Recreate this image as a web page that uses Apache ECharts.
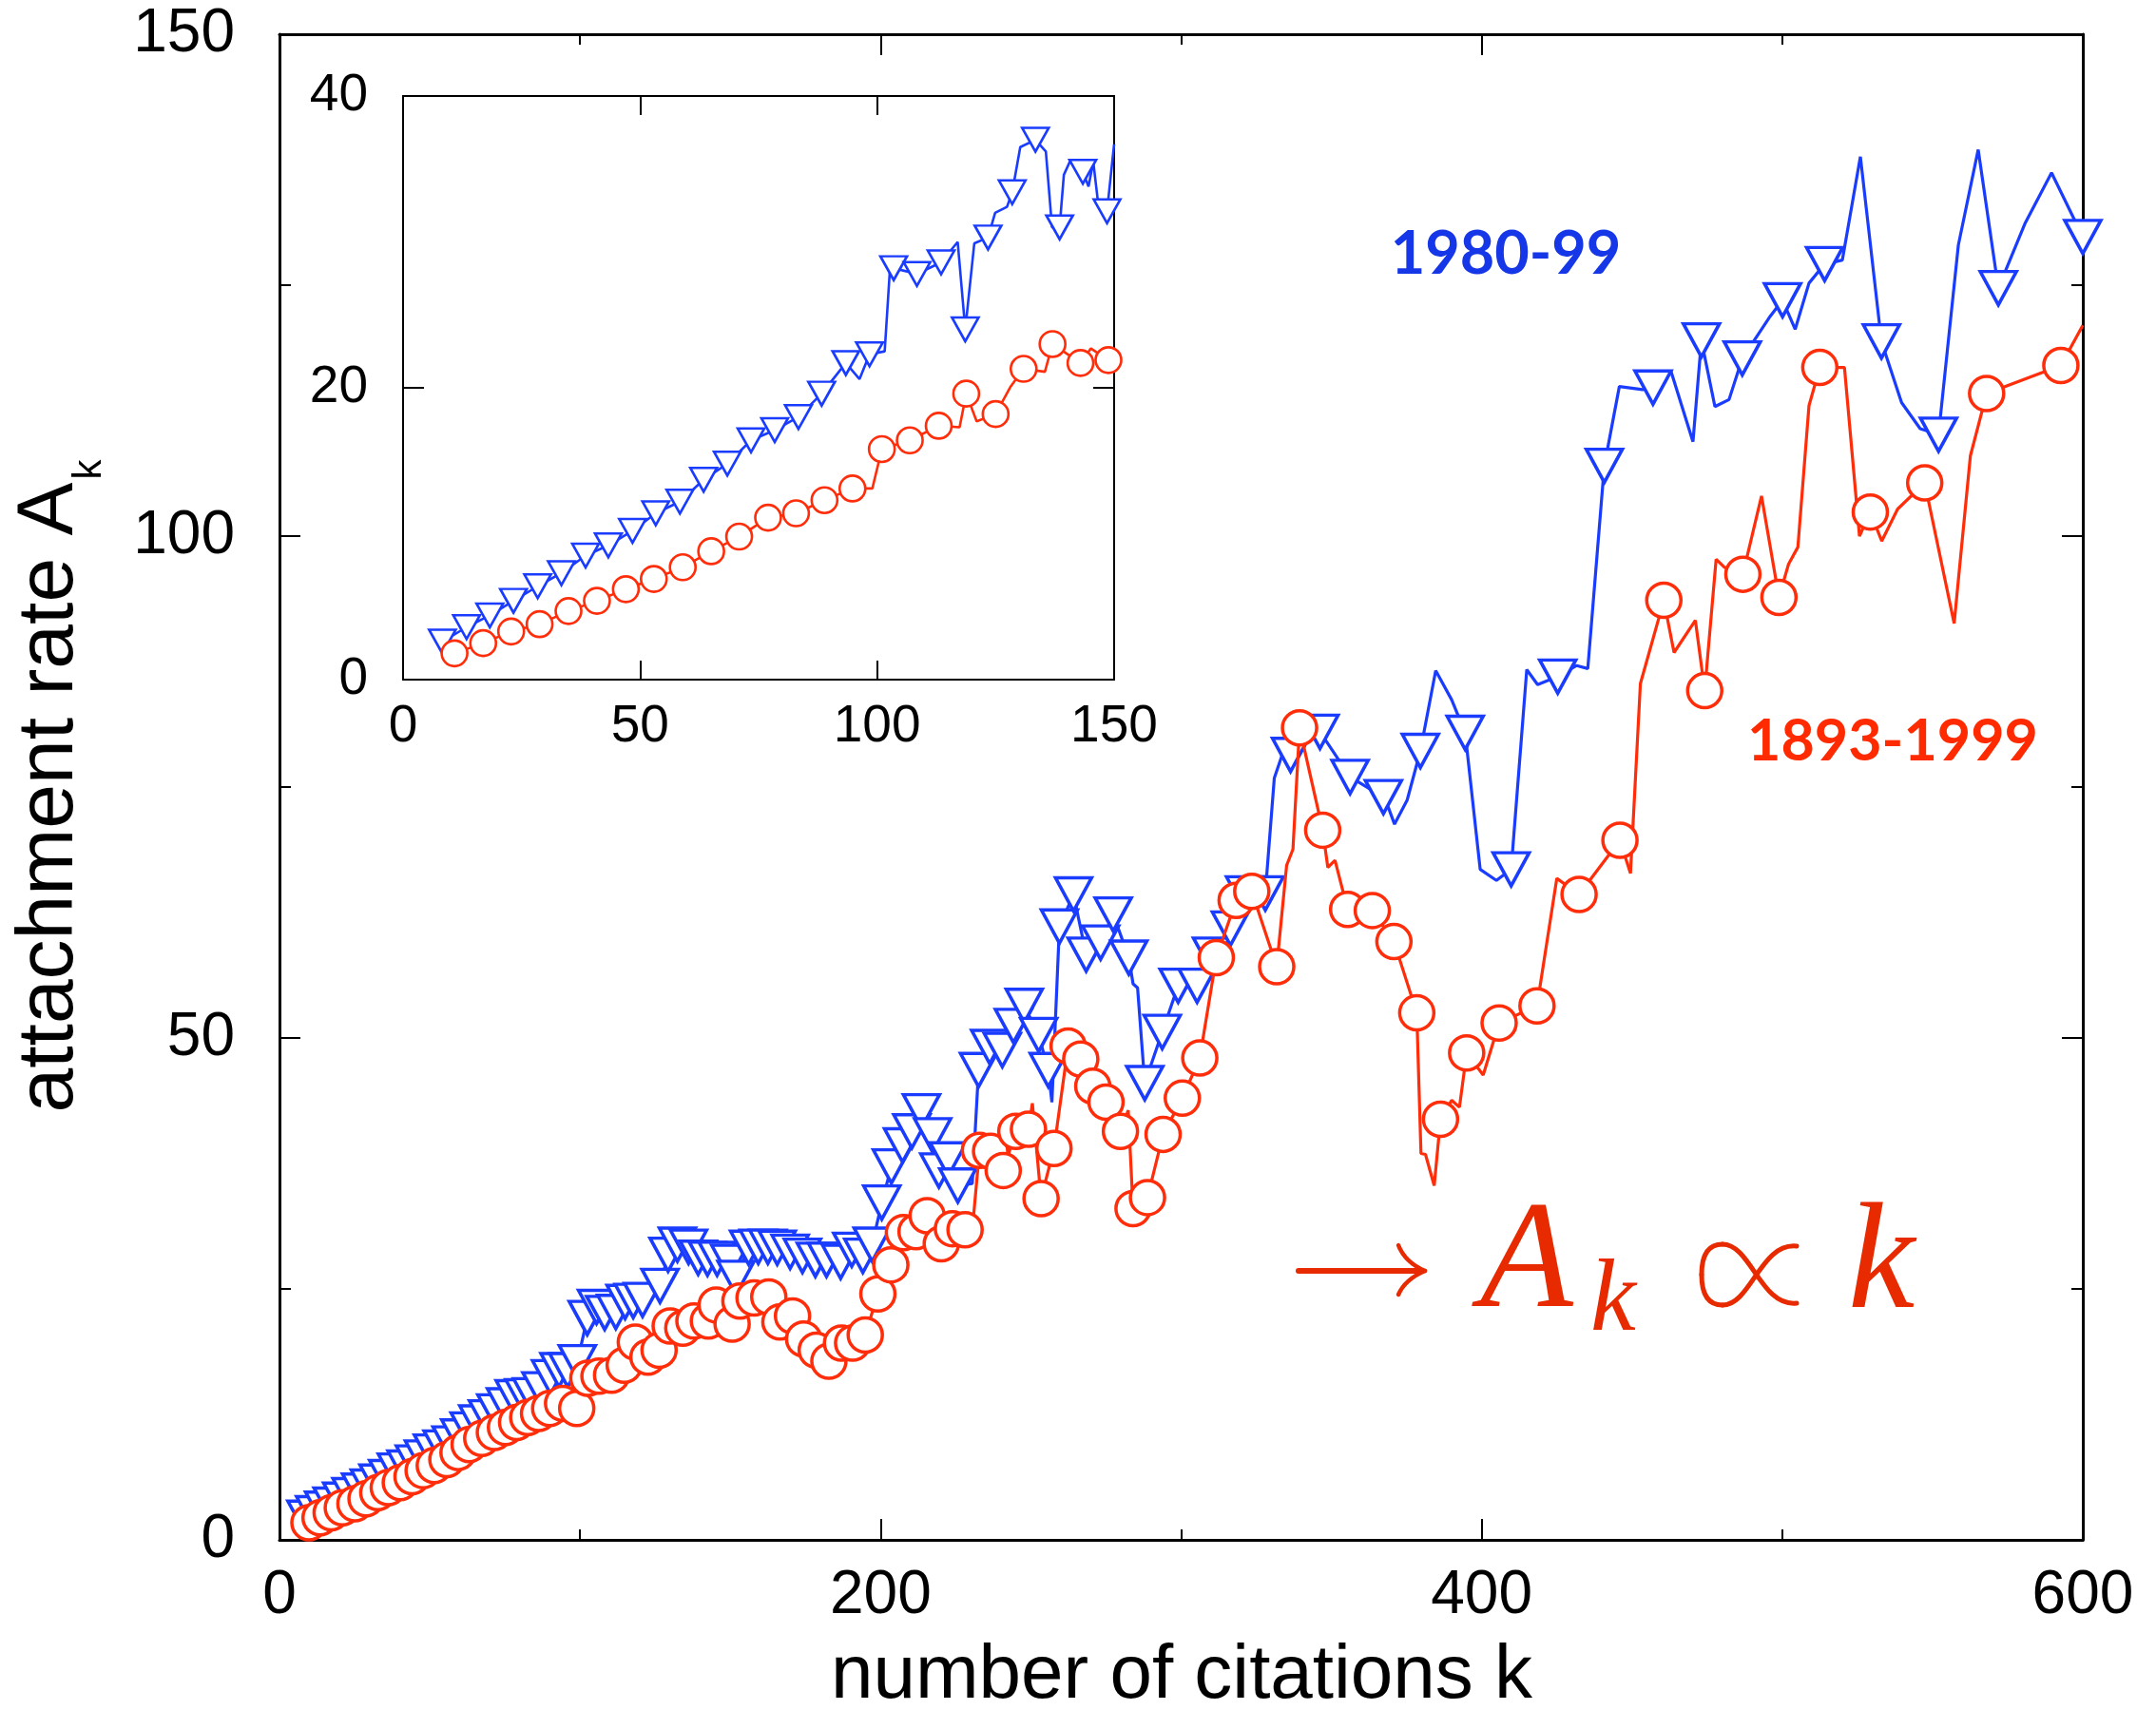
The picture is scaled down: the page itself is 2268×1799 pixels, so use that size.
<!DOCTYPE html>
<html><head><meta charset="utf-8">
<script src="https://cdn.jsdelivr.net/npm/echarts@6/dist/echarts.min.js"></script>
<style>html,body{margin:0;padding:0;background:#fff}#c{width:2268px;height:1799px}</style>
</head><body><div id="c"></div>
<script>
// ---------- main plot : 1980-99 (blue triangles) ----------
const blueMarkK = [8.8,11.7,14.7,17.5,20.7,23.8,27.0,29.9,32.8,36.0,38.9,42.1,44.9,47.9,50.9,54.1,57.1,60.0,63.1,66.0,69.2,72.0,75.2,78.1,81.3,83.9,87.0,90.2,93.0,95.9,99.1,
  102.4,105.5,108.2,111.9,115.0,117.7,120.8,126.6,129.3,132.4,136.1,139.3,142.4,145.6,149.8,151.9,156.1,159.3,162.5,165.6,169.9,174.0,178.3,182.0,186.7,190.4,194.1,197.2,
  200.4,203.6,207.3,210.4,213.6,217.3,219.4,222.5,225.7,232.6,236.3,240.5,244.2,247.8,252.6,255.8,259.5,264.2,268.4,273.2,277.4,282.6,287.9,293.7,299.0,305.3,310.1,316.4,321.1,
  328.0,336.4,346.2,356.2,367.3,379.6,394.5,409.8,425.3,440.8,457.0,473.1,486.7,500.1,514.1,533.0,552.0,571.9,600.0];
const blueMarkA = [2.2,2.65,3.1,3.5,4.0,4.45,4.9,5.3,5.8,6.25,6.9,7.2,7.7,8.2,8.8,9.2,9.6,10.3,11.0,11.7,12.2,12.8,13.4,14.2,14.3,14.4,15.0,16.2,16.9,16.9,17.7,
  22.1,23.2,22.6,22.7,23.7,23.8,23.9,25.3,28.4,29.4,29.2,28.1,28.0,28.0,27.7,26.1,29.1,29.2,29.2,29.1,28.7,28.3,27.9,27.9,27.7,28.9,28.3,29.4,
  33.6,37.2,39.3,40.7,42.7,40.3,36.8,37.9,35.3,46.8,49.1,48.8,51.2,53.2,50.3,46.8,61.1,64.3,58.3,59.5,62.3,58.0,45.5,50.6,55.2,55.2,58.3,60.9,64.4,
  64.4,78.2,80.5,76.0,74.0,78.6,80.4,66.8,86.0,107.0,114.8,119.5,117.7,123.5,127.1,119.4,110.1,124.7,129.8];
// line vertices without a marker
const blueLineK = [230.5,257.0,284.0,285.5,331.0,333.5,368.9,371.0,375.2,384.7,390.0,399.5,404.9,415.0,418.6,431.6,435.3,445.8,453.5,463.0,470.3,477.6,482.3,496.0,504.3,508.9,520.0,526.0,539.7,545.9,558.6,565.2,580.7,589.6];
const blueLineA = [35.5,43.6,55.4,55.0,75.9,78.1,73.0,71.3,73.7,86.6,83.7,66.8,65.7,86.7,85.2,87.1,86.8,114.9,114.6,116.4,109.4,112.9,113.6,121.9,120.6,125.2,127.5,137.8,113.3,110.7,129.0,138.5,131.1,136.2];

// ---------- main plot : 1893-1999 (red circles) ----------
const redMarkK = [9.8,13.5,17.2,20.9,25.1,28.8,32.7,36.2,40.2,44.1,47.8,51.5,55.7,59.4,63.1,67.3,71.5,75.2,78.9,82.6,86.2,89.9,94.2,98.9,
  102.6,106.3,110.5,114.7,118.4,122.6,126.3,130.0,134.2,137.9,142.7,145.3,150.6,153.2,157.9,162.8,166.5,170.7,174.4,178.6,182.8,187.0,190.7,194.9,
  199.1,203.4,207.6,211.8,215.5,220.2,223.9,228.1,232.9,236.6,240.8,245.0,249.2,253.4,257.7,262.4,266.6,270.6,275.0,279.8,284.0,288.8,294.0,300.4,306.2,311.7,318.3,323.5,
  331.8,339.4,347.1,355.4,363.6,370.8,378.4,386.3,395.0,405.8,418.4,432.4,446.0,460.6,474.2,486.9,498.9,512.5,529.3,547.4,568.0,592.7];
const redMarkA = [1.7,2.2,2.7,3.2,3.6,4.1,4.7,5.2,5.7,6.3,6.9,7.4,8.0,8.7,9.5,10.1,10.7,11.2,11.7,12.2,12.6,13.1,13.6,13.1,
  16.1,16.3,16.4,17.4,19.7,18.2,18.9,21.3,21.1,21.8,21.8,23.4,21.5,23.8,24.1,24.2,21.7,22.3,20.0,18.9,17.8,19.6,19.6,20.4,
  24.5,27.4,30.6,30.7,32.3,29.5,31.0,30.9,38.8,38.7,36.8,40.7,40.9,34.0,39.0,49.2,47.9,45.2,43.6,40.7,33.0,34.1,40.4,44.0,48.0,58.0,63.7,64.6,
  57.1,80.9,70.7,62.8,62.7,59.6,52.5,41.9,48.5,51.5,53.2,64.3,69.7,93.6,84.6,96.2,93.9,116.8,102.4,105.3,114.2,117.0];
const redLineK = [230.8,250.5,282.4,335.1,337.2,348.8,351.2,379.8,381.3,384.2,390.0,392.6,400.5,425.0,449.5,452.8,464.0,471.1,478.0,480.7,493.1,502.1,505.2,508.9,520.7,525.7,533.1,538.4,557.2,562.6,600.0];
const redLineA = [31.8,43.5,42.8,67.2,68.8,67.0,67.7,38.5,38.4,35.3,43.8,43.1,46.3,65.9,66.4,85.3,88.4,91.6,97.7,96.9,104.0,97.2,98.9,113.0,116.8,100.0,99.5,102.7,91.3,108.0,121.0];

// ---------- inset ----------
const inBlueMarkK = [8.3,13.4,18.3,23.3,28.4,33.4,38.5,43.3,48.4,53.3,58.4,63.4,68.4,73.4,78.4,83.4,88.3,93.4,98.4,103.5,108.4,113.5,118.6,123.4,128.5,133.4,138.5,143.4,148.5];
const inBlueMarkA = [2.6,3.6,4.4,5.4,6.4,7.3,8.5,9.2,10.2,11.4,12.2,13.7,14.8,16.4,17.1,18.0,19.6,21.7,22.3,28.2,27.8,28.6,24.0,30.3,33.4,37.0,31.0,34.8,32.1];
const inBlueLineK = [96.3,101.6,102.8,117.0,120.5,124.9,127.4,130.2,135.6,136.9,139.4,140.8,144.6,145.6,146.5,150.0];
const inBlueLineA = [20.6,22.5,28.6,30.0,29.9,32.0,32.4,36.5,36.2,31.0,34.6,35.6,33.8,35.5,33.0,36.7];
const inRedMarkK = [10.85,16.9,22.8,28.8,34.9,40.9,47.0,52.9,59.0,65.0,70.9,77.0,82.9,88.9,94.8,101.0,106.9,113.0,118.8,125.0,130.9,137.0,142.9,148.8];
const inRedMarkA = [1.8,2.5,3.3,3.8,4.7,5.4,6.2,6.9,7.7,8.8,9.8,11.1,11.4,12.3,13.1,15.8,16.4,17.4,19.6,18.2,21.3,23.0,21.7,21.9];
const inRedLineK = [99.0,117.4,121.0,128.2,135.4,145.1];
const inRedLineA = [13.1,17.3,17.7,20.1,21.1,22.7];

// ---------- ticks / labels ----------
const mainXTicks = [0, 600, 200];   // min, max, labelled interval
const mainYTicks = [0, 150, 50];
const insetXTicks = [0, 150, 50];
const insetYTicks = [0, 40, 20];

const BLUE = '#1a3cff', RED = '#ff2d0a', MATH = '#e82a00';

function merge(mk, ma, lk, la) {
  const pts = [];
  mk.forEach((k, i) => pts.push([k, ma[i], 1]));
  lk.forEach((k, i) => pts.push([k, la[i], 0]));
  pts.sort((a, b) => a[0] - b[0]);
  return pts;
}
function toData(pts, sym) {
  return pts.map(p => ({ value: [p[0], p[1]], symbol: p[2] ? sym : 'none' }));
}

const F = 'Liberation Sans, Arial, Helvetica, sans-serif';
const SERIF = '"Liberation Serif", "DejaVu Serif", serif';
function axis(grid, t, pos, o) {
  return {
    type: 'value', gridIndex: grid, min: t[0], max: t[1], interval: t[2], position: pos,
    axisLine: { show: true, onZero: false, lineStyle: { color: '#000', width: o.lw } },
    axisTick: { show: true, inside: true, length: o.tl, lineStyle: { color: '#000', width: 2 } },
    minorTick: { show: !!o.minor, splitNumber: 2, length: o.ml || 0, lineStyle: { color: '#000', width: 2 } },
    axisLabel: { show: !!o.label, margin: o.margin || 0, fontSize: o.fs || 12, fontFamily: F, color: '#000' },
    splitLine: { show: false }, minorSplitLine: { show: false }
  };
}

// "proportional to" sign drawn as thin strokes (box 1790..1890 x 1308..1374)
function propSign(L, R, T, B) {
  const M = (T + B) / 2, w = R - L;
  const a = L + 0.22 * w;
  const st = { stroke: MATH, lineWidth: 5, lineCap: 'round', fill: null };
  const seg = (x1, y1, c1x, c1y, c2x, c2y, x2, y2) => ({ type: 'bezierCurve', silent: true,
    shape: { x1, y1, cpx1: c1x, cpy1: c1y, cpx2: c2x, cpy2: c2y, x2, y2 }, style: st });
  return [
    seg(R, T + 2, L + 0.62 * w, T - 2, L + 0.52 * w, B, a, B),
    seg(a, B, L + 0.06 * w, B, L, M + 0.3 * (B - T), L, M),
    seg(L, M, L, M - 0.3 * (B - T), L + 0.06 * w, T, a, T),
    seg(a, T, L + 0.52 * w, T, L + 0.62 * w, B + 2, R, B - 2)
  ];
}

const chart = echarts.init(document.getElementById('c'), null, { renderer: 'canvas' });
const option = {
  animation: false,
  backgroundColor: '#fff',
  grid: [
    { left: 294, top: 36, width: 1897, height: 1584, show: false },
    { left: 424, top: 101, width: 748, height: 614, show: true, backgroundColor: '#fff', borderWidth: 0 }
  ],
  xAxis: [
    axis(0, mainXTicks, 'bottom', { lw: 3, tl: 22, minor: true, ml: 11, label: true, margin: 27, fs: 64 }),
    axis(0, mainXTicks, 'top', { lw: 3, tl: 22, minor: true, ml: 11 }),
    axis(1, insetXTicks, 'bottom', { lw: 2, tl: 20, label: true, margin: 22, fs: 55 }),
    axis(1, insetXTicks, 'top', { lw: 2, tl: 20 })
  ],
  yAxis: [
    axis(0, mainYTicks, 'left', { lw: 3, tl: 22, minor: true, ml: 12, label: true, margin: 47, fs: 64 }),
    axis(0, mainYTicks, 'right', { lw: 3, tl: 22, minor: true, ml: 12 }),
    axis(1, insetYTicks, 'left', { lw: 2, tl: 22, label: true, margin: 37, fs: 55 }),
    axis(1, insetYTicks, 'right', { lw: 2, tl: 22 })
  ],
  series: [
    { type: 'line', xAxisIndex: 0, yAxisIndex: 0, data: toData(merge(blueMarkK, blueMarkA, blueLineK, blueLineA), 'triangle'),
      symbolSize: [38, 35], symbolRotate: 180, showAllSymbol: true, clip: false, silent: true, z: 2,
      lineStyle: { color: BLUE, width: 3.2 }, itemStyle: { color: '#fff', borderColor: BLUE, borderWidth: 3.5 }, emphasis: { disabled: true } },
    { type: 'line', xAxisIndex: 0, yAxisIndex: 0, data: toData(merge(redMarkK, redMarkA, redLineK, redLineA), 'circle'),
      symbolSize: 36, showAllSymbol: true, clip: false, silent: true, z: 3,
      lineStyle: { color: RED, width: 3.2 }, itemStyle: { color: '#fff', borderColor: RED, borderWidth: 3.5 }, emphasis: { disabled: true } },
    { type: 'line', xAxisIndex: 2, yAxisIndex: 2, data: toData(merge(inBlueMarkK, inBlueMarkA, inBlueLineK, inBlueLineA), 'triangle'),
      symbolSize: [28, 25], symbolRotate: 180, showAllSymbol: true, clip: false, silent: true, z: 4,
      lineStyle: { color: BLUE, width: 2.6 }, itemStyle: { color: '#fff', borderColor: BLUE, borderWidth: 2.6 }, emphasis: { disabled: true } },
    { type: 'line', xAxisIndex: 2, yAxisIndex: 2, data: toData(merge(inRedMarkK, inRedMarkA, inRedLineK, inRedLineA), 'circle'),
      symbolSize: 27, showAllSymbol: true, clip: false, silent: true, z: 5,
      lineStyle: { color: RED, width: 2.6 }, itemStyle: { color: '#fff', borderColor: RED, borderWidth: 2.6 }, emphasis: { disabled: true } }
  ],
  graphic: [
    { type: 'text', x: 53, y: 839, rotation: Math.PI / 2, silent: true,
      style: { text: 'attachment rate A', font: '84px ' + F, fill: '#000', align: 'center', verticalAlign: 'middle' } },
    { type: 'text', x: 94, y: 494, rotation: Math.PI / 2, silent: true,
      style: { text: 'k', font: '42px ' + F, fill: '#000', align: 'center', verticalAlign: 'middle' } },
    { type: 'text', x: 1243, y: 1764, silent: true,
      style: { text: 'number of citations k', font: '80px ' + F, fill: '#000', align: 'center', verticalAlign: 'middle' } },
    { type: 'text', x: 1584, y: 268, silent: true,
      style: { text: '1980-99', font: 'bold 63px Lato, "Open Sans", sans-serif', fill: '#1537e8', align: 'center', verticalAlign: 'middle' } },
    { type: 'text', x: 1991, y: 780, silent: true,
      style: { text: '1893-1999', font: 'bold 61px Lato, "Open Sans", sans-serif', fill: '#ff2a00', align: 'center', verticalAlign: 'middle' } },
    { type: 'line', silent: true, shape: { x1: 1366, y1: 1337, x2: 1496, y2: 1337 },
      style: { stroke: MATH, lineWidth: 6, lineCap: 'round' } },
    { type: 'bezierCurve', silent: true, shape: { x1: 1471, y1: 1310, x2: 1499, y2: 1337, cpx1: 1478, cpy1: 1328 },
      style: { stroke: MATH, lineWidth: 4.5, lineCap: 'round', fill: null } },
    { type: 'bezierCurve', silent: true, shape: { x1: 1471, y1: 1362, x2: 1499, y2: 1337, cpx1: 1478, cpy1: 1346 },
      style: { stroke: MATH, lineWidth: 4.5, lineCap: 'round', fill: null } },
    { type: 'text', x: 1557, y: 1332, silent: true,
      style: { text: 'A', font: 'italic 160px ' + SERIF, fill: MATH, align: 'left', verticalAlign: 'middle' } },
    { type: 'text', x: 1673, y: 1371, silent: true,
      style: { text: 'k', font: 'italic 108px ' + SERIF, fill: MATH, align: 'left', verticalAlign: 'middle' } },
    ...propSign(1790, 1890, 1309, 1373),
    { type: 'text', x: 1944, y: 1333, silent: true,
      style: { text: 'k', font: 'italic 158px ' + SERIF, fill: MATH, align: 'left', verticalAlign: 'middle' } }
  ]
};
chart.setOption(option);
</script>
</body></html>
